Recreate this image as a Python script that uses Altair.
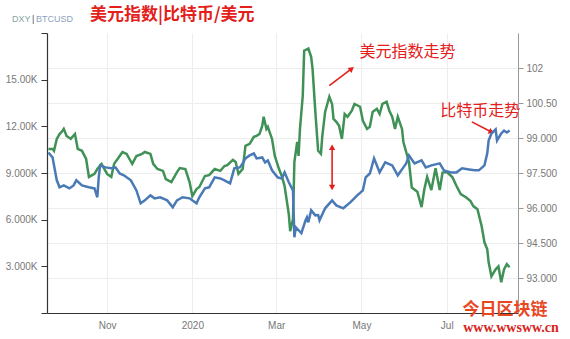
import altair as alt
import pandas as pd

# ---------------- data ----------------
btc_dates = [
    "2019-09-20", "2019-09-23", "2019-09-26", "2019-09-28", "2019-10-01", "2019-10-05",
    "2019-10-08", "2019-10-10", "2019-10-14", "2019-10-19", "2019-10-23", "2019-10-25",
    "2019-10-26", "2019-10-27", "2019-10-31", "2019-11-04", "2019-11-07", "2019-11-10",
    "2019-11-13", "2019-11-18", "2019-11-22", "2019-11-25", "2019-11-28", "2019-12-02",
    "2019-12-05", "2019-12-09", "2019-12-14", "2019-12-18", "2019-12-21", "2019-12-25",
    "2019-12-30", "2020-01-04", "2020-01-06", "2020-01-10", "2020-01-13", "2020-01-17",
    "2020-01-21", "2020-01-24", "2020-01-28", "2020-01-31", "2020-02-04", "2020-02-06",
    "2020-02-08", "2020-02-11", "2020-02-14", "2020-02-16", "2020-02-20", "2020-02-22",
    "2020-02-24", "2020-02-27", "2020-03-02", "2020-03-05", "2020-03-07", "2020-03-10",
    "2020-03-13", "2020-03-14", "2020-03-15", "2020-03-17", "2020-03-19", "2020-03-22",
    "2020-03-23", "2020-03-24", "2020-03-26", "2020-03-29", "2020-03-31", "2020-04-01",
    "2020-04-05", "2020-04-10", "2020-04-13", "2020-04-18", "2020-04-23", "2020-04-28",
    "2020-05-02", "2020-05-04", "2020-05-07", "2020-05-10", "2020-05-14", "2020-05-18",
    "2020-05-23", "2020-05-27", "2020-05-31", "2020-06-02", "2020-06-04", "2020-06-08",
    "2020-06-13", "2020-06-16", "2020-06-20", "2020-06-26", "2020-06-29", "2020-07-04",
    "2020-07-08", "2020-07-12", "2020-07-17", "2020-07-21", "2020-07-24", "2020-07-28",
    "2020-07-30", "2020-07-31", "2020-08-02", "2020-08-05", "2020-08-06", "2020-08-09",
    "2020-08-11", "2020-08-13", "2020-08-15",
]
btc_values = [
    10320, 10000, 8530, 8080, 8200, 8010,
    8200, 8530, 8200, 8080, 8010, 7440,
    8700, 9490, 9360, 9300, 9360, 8970,
    8850, 8530, 7880, 7050, 7240, 7560,
    7370, 7440, 7240, 6800, 7240, 7440,
    7370, 7050, 7440, 8010, 8080, 8720,
    8650, 8530, 8330, 9300, 9360, 9620,
    9940, 10130, 10260, 9940, 10000, 9680,
    9810, 9170, 8720, 8650, 9040, 8400,
    7880, 4870, 5510, 5320, 5130, 5960,
    6150, 5830, 6600, 6280, 6300, 5960,
    6730, 7240, 6920, 6730, 7110, 7560,
    7880, 8720, 8970, 9940, 9040, 9680,
    9490, 8850, 9360, 9620, 10130, 9620,
    9810, 9360, 9490, 9620, 9170, 9040,
    9040, 9300, 9230, 9170, 9170, 9490,
    10260, 11090, 11540, 11800, 11090, 11540,
    11730, 11600, 11730,
]

dxy_dates = [
    "2019-09-20", "2019-09-23", "2019-09-24", "2019-09-26", "2019-09-28", "2019-09-30",
    "2019-10-01", "2019-10-03", "2019-10-06", "2019-10-09", "2019-10-11", "2019-10-14",
    "2019-10-17", "2019-10-19", "2019-10-23", "2019-10-25", "2019-10-28", "2019-11-01",
    "2019-11-04", "2019-11-06", "2019-11-10", "2019-11-12", "2019-11-15", "2019-11-17",
    "2019-11-19", "2019-11-22", "2019-11-26", "2019-11-28", "2019-12-02", "2019-12-04",
    "2019-12-07", "2019-12-11", "2019-12-13", "2019-12-17", "2019-12-21", "2019-12-23",
    "2019-12-27", "2019-12-30", "2020-01-01", "2020-01-04", "2020-01-06", "2020-01-10",
    "2020-01-13", "2020-01-17", "2020-01-21", "2020-01-24", "2020-01-26", "2020-01-30",
    "2020-02-01", "2020-02-03", "2020-02-06", "2020-02-08", "2020-02-11", "2020-02-14",
    "2020-02-16", "2020-02-18", "2020-02-20", "2020-02-21", "2020-02-23", "2020-02-24",
    "2020-02-27", "2020-02-29", "2020-03-03", "2020-03-05", "2020-03-07", "2020-03-10",
    "2020-03-11", "2020-03-13", "2020-03-14", "2020-03-16", "2020-03-17", "2020-03-18",
    "2020-03-20", "2020-03-21", "2020-03-24", "2020-03-26", "2020-03-27", "2020-03-29",
    "2020-03-31", "2020-04-02", "2020-04-03", "2020-04-05", "2020-04-08", "2020-04-10",
    "2020-04-11", "2020-04-13", "2020-04-15", "2020-04-17", "2020-04-19", "2020-04-21",
    "2020-04-24", "2020-04-26", "2020-04-30", "2020-05-02", "2020-05-05", "2020-05-07",
    "2020-05-09", "2020-05-12", "2020-05-14", "2020-05-16", "2020-05-19", "2020-05-21",
    "2020-05-23", "2020-05-25", "2020-05-27", "2020-05-30", "2020-05-31", "2020-06-02",
    "2020-06-04", "2020-06-06", "2020-06-10", "2020-06-13", "2020-06-15", "2020-06-17",
    "2020-06-20", "2020-06-23", "2020-06-26", "2020-06-28", "2020-07-01", "2020-07-05",
    "2020-07-08", "2020-07-11", "2020-07-15", "2020-07-18", "2020-07-20", "2020-07-23",
    "2020-07-26", "2020-07-28", "2020-07-30", "2020-07-31", "2020-08-02", "2020-08-05",
    "2020-08-07", "2020-08-09", "2020-08-11", "2020-08-13", "2020-08-15",
]
dxy_values = [
    98.53, 98.53, 98.45, 98.96, 99.17, 99.30,
    99.39, 99.09, 98.96, 99.17, 98.53, 98.45,
    98.10, 97.33, 97.46, 97.67, 97.89, 97.46,
    97.33, 97.89, 98.23, 98.40, 98.32, 98.10,
    97.89, 98.23, 98.32, 98.40, 98.32, 97.89,
    97.67, 97.59, 97.24, 97.11, 97.54, 97.71,
    97.67, 97.11, 96.51, 96.81, 96.90, 97.37,
    97.41, 97.67, 97.59, 97.80, 97.84, 98.06,
    97.97, 97.46, 97.67, 98.66, 98.75, 99.05,
    99.09, 99.17, 99.52, 99.91, 99.39, 99.48,
    98.96, 98.23, 97.67, 97.37, 96.94, 95.74,
    95.01, 95.52, 97.97, 98.83, 98.23, 99.39,
    100.81, 102.74, 102.83, 102.48, 101.97, 100.12,
    98.45, 98.32, 99.09, 100.12, 100.77, 100.45,
    99.82, 99.69, 99.52, 98.96, 100.03, 99.91,
    100.16, 100.46, 100.34, 99.74, 99.39, 99.48,
    100.12, 100.25, 100.03, 100.46, 100.55, 100.16,
    99.91, 99.39, 99.91, 99.39, 98.83, 98.40,
    97.97, 96.88, 96.70, 96.04, 96.81, 97.33,
    96.77, 97.70, 96.77, 97.52, 97.54, 97.33,
    96.94, 96.60, 96.45, 96.30, 96.08, 95.95,
    95.22, 94.53, 94.23, 93.67, 93.07, 93.37,
    93.50, 92.82, 93.37, 93.59, 93.46,
]

btc_ticks = [0, 3000, 6000, 9000, 12000, 15000, 18000]
dxy_ticks = [93, 94.5, 96, 97.5, 99, 100.5, 102]

# annotations (in DXY coordinates)
note_dates = ["2020-06-03", "2020-07-25"]
note_values = [102.7, 100.16]
note_labels = ["美元指数走势", "比特币走势"]

arrow_start_dates = ["2020-04-08", "2020-07-19", "2020-04-10"]
arrow_end_dates = ["2020-04-24", "2020-08-02", "2020-04-10"]
arrow_start_values = [101.24, 99.69, 96.95]
arrow_end_values = [101.97, 99.26, 98.55]

head_dates = ["2020-04-24", "2020-08-02", "2020-04-10", "2020-04-10"]
head_values = [101.97, 99.26, 98.60, 96.88]
head_angles = [52, 115, 0, 180]

GREEN = "#3f9156"
BLUE = "#4a7ab6"
RED = "#e3201b"
CJK = "Noto Sans CJK SC"

btc = pd.DataFrame({"date": btc_dates, "BTC": btc_values})
dxy = pd.DataFrame({"date": dxy_dates, "DXY": dxy_values})
notes = pd.DataFrame({"date": note_dates, "v": note_values, "label": note_labels})
arrows = pd.DataFrame({"date": arrow_start_dates, "date2": arrow_end_dates,
                       "v": arrow_start_values, "v2": arrow_end_values})
heads = pd.DataFrame({"date": head_dates, "v": head_values, "angle": head_angles})
one = pd.DataFrame({"k": [0]})


def dt(y, m, d):
    return alt.DateTime(year=y, month=m, date=d, utc=True)


x_scale = alt.Scale(type="utc", domain=[dt(2019, 9, 19), dt(2020, 8, 21)])
x_axis = alt.Axis(
    values=[dt(2019, 11, 1), dt(2020, 1, 1), dt(2020, 3, 1), dt(2020, 5, 1), dt(2020, 7, 1)],
    labelExpr="utcFormat(datum.value, '%m') == '01' ? utcFormat(datum.value, '%Y') : utcFormat(datum.value, '%b')",
    title=None, grid=True, gridColor="#ededed", ticks=False,
    domainColor="#333333", domainWidth=1.2,
    labelColor="#777777", labelFontSize=10, labelPadding=7, labelFont="Liberation Sans",
)

dxy_scale = alt.Scale(domain=[91.5, 103.5], nice=False, zero=False)
dxy_axis = alt.Axis(
    orient="right", values=dxy_ticks, title=None,
    labelExpr="datum.value == 102 ? '102' : (datum.value >= 100 ? format(datum.value, '.2f') : format(datum.value, '.3f'))",
    grid=True, gridColor="#ededed", domainColor="#999999", tickColor="#999999",
    tickSize=5, labelColor="#777777", labelFontSize=10, labelPadding=3,
    labelFont="Liberation Sans",
)

btc_scale = alt.Scale(domain=[0, 18000], nice=False)
btc_axis = alt.Axis(
    orient="left", values=btc_ticks, title=None, grid=False,
    labelExpr="datum.value == 0 || datum.value == 18000 ? '' : replace(format(datum.value, '.4s'), 'k', 'K')",
    domainColor="#333333", domainWidth=1.2, tickColor="#333333", tickSize=6,
    labelColor="#777777", labelFontSize=10, labelPadding=4, labelFont="Liberation Sans",
)


def X(field="date"):
    return alt.X(f"{field}:T", scale=x_scale, axis=x_axis)


def YD(field):
    return alt.Y(f"{field}:Q", scale=dxy_scale, axis=dxy_axis)


green_line = alt.Chart(dxy).mark_line(color=GREEN, strokeWidth=2.5).encode(
    x=X(), y=YD("DXY")
)

arrow_rules = alt.Chart(arrows).mark_rule(color=RED, strokeWidth=1.6).encode(
    x=X(), x2="date2:T", y=YD("v"), y2="v2:Q"
)
arrow_heads = alt.Chart(heads).mark_point(
    shape="triangle-up", filled=True, color=RED, size=40, opacity=1
).encode(x=X(), y=YD("v"), angle=alt.Angle("angle:Q", scale=None))

note_text = alt.Chart(notes).mark_text(
    color=RED, fontSize=16, font=CJK, align="center", baseline="middle"
).encode(x=X(), y=YD("v"), text="label:N")

title_main = alt.Chart(one).mark_text(
    text="美元指数|比特币/美元", color=RED, fontSize=17, font=CJK, fontWeight="bold",
    align="left", baseline="middle"
).encode(x=alt.value(43), y=alt.value(-18))
title_dxy = alt.Chart(one).mark_text(
    text="DXY", color="#86a69e", fontSize=9, font="Liberation Sans",
    align="left", baseline="middle"
).encode(x=alt.value(-35), y=alt.value(-14))
title_bar = alt.Chart(one).mark_text(
    text="|", color="#555555", fontSize=9, font="Liberation Sans",
    align="left", baseline="middle"
).encode(x=alt.value(-15), y=alt.value(-14))
title_btc = alt.Chart(one).mark_text(
    text="BTCUSD", color="#8da2bd", fontSize=9, font="Liberation Sans",
    align="left", baseline="middle"
).encode(x=alt.value(-11), y=alt.value(-14))

wm1 = alt.Chart(one).mark_text(
    text="今日区块链", color="#e8481f", fontSize=17, font=CJK, fontWeight="bold",
    align="center", baseline="middle"
).encode(x=alt.value(458), y=alt.value(277))
wm2 = alt.Chart(one).mark_text(
    text="www.wwsww.cn", color="#d8261d", fontSize=14, font="Liberation Serif",
    fontWeight="bold", align="center", baseline="middle"
).encode(x=alt.value(464), y=alt.value(295))

green_group = alt.layer(
    green_line, arrow_rules, arrow_heads, note_text,
    title_main, title_dxy, title_bar, title_btc, wm1, wm2,
)

blue_line = alt.Chart(btc).mark_line(color=BLUE, strokeWidth=2.5).encode(
    x=X(), y=alt.Y("BTC:Q", scale=btc_scale, axis=btc_axis)
)

chart = alt.layer(green_group, blue_line).resolve_scale(y="independent").properties(
    width=471, height=280,
    autosize=alt.AutoSizeParams(type="none"),
    padding={"left": 47, "top": 33, "right": 52, "bottom": 26},
    background="white",
).configure_view(stroke=None)

chart.save("out.html", embed_options={"renderer": "svg", "actions": False})
